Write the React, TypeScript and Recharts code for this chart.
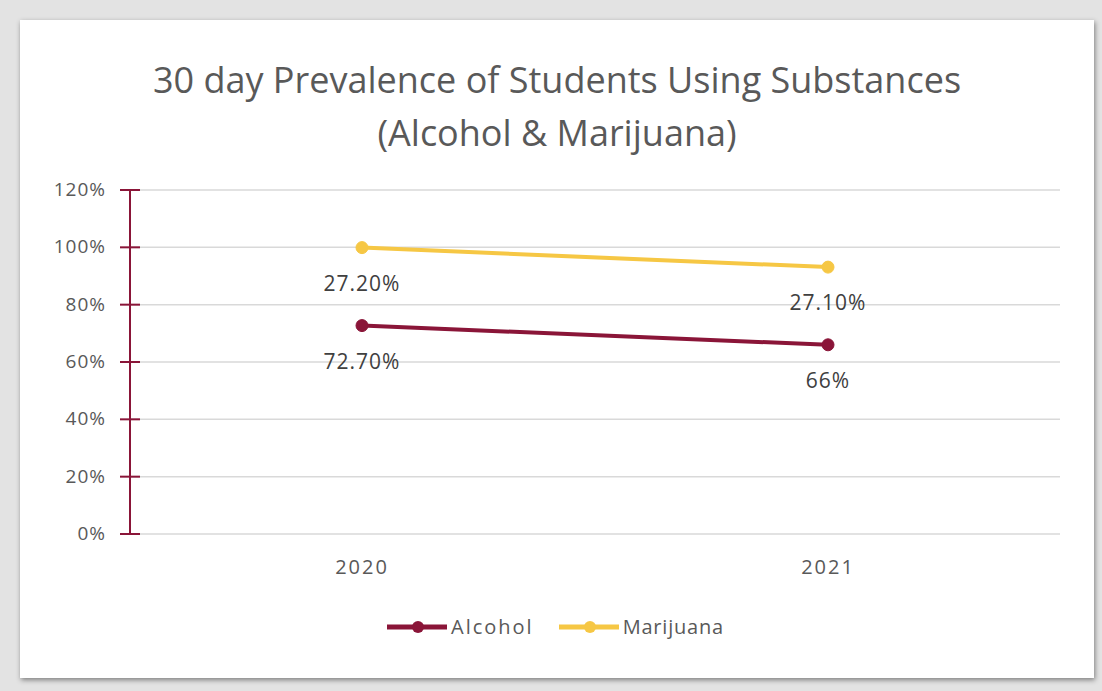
import { LineChart, Line, XAxis, YAxis, CartesianGrid, LabelList } from "recharts";

const years = ["2020", "2021"];
const alcohol = [0.727, 0.66];
const marijuana = [0.272, 0.271];
const yTicks = [0, 0.2, 0.4, 0.6, 0.8, 1, 1.2];
const labelsAlcohol = ["72.70%", "66%"];
const labelsMarijuana = ["27.20%", "27.10%"];

const MAROON = "#8A1538";
const GOLD = "#F6C744";
const TEXT = "#595959";
const FONT = "'Liberation Sans Narrow', 'Open Sans', sans-serif";

// Excel stacked line: marijuana sits on top of alcohol
const data = years.map((y, i) => ({
  year: y,
  alcohol: alcohol[i],
  marijuanaTop: alcohol[i] + marijuana[i],
  alcLabel: labelsAlcohol[i],
  marLabel: labelsMarijuana[i],
}));

function YTick({ x, y, payload }: any) {
  return (
    <g>
      <line x1={x - 10} x2={x + 10} y1={y} y2={y} stroke={MAROON} strokeWidth={2} />
      <text x={x - 24} y={y} dy={6} textAnchor="end" fontSize={19} letterSpacing={1} fill={TEXT} fontFamily={FONT}>
        {Math.round(payload.value * 100) + "%"}
      </text>
    </g>
  );
}

function XTick({ x, y, payload }: any) {
  return (
    <text x={x} y={y} dy={14} textAnchor="middle" fontSize={20} letterSpacing={2} fill={TEXT} fontFamily={FONT}>
      {payload.value}
    </text>
  );
}

function PointLabel({ x, y, value }: any) {
  return (
    <text x={x} y={y + 36} dy={7} textAnchor="middle" fontSize={21} letterSpacing={1} fill="#404040" fontFamily={FONT}>
      {value}
    </text>
  );
}

function LegendItem({ color, label }: { color: string; label: string }) {
  return (
    <div style={{ display: "flex", alignItems: "center", marginRight: 24 }}>
      <svg width={62} height={14}>
        <line x1={1} x2={61} y1={7} y2={7} stroke={color} strokeWidth={5} />
        <circle cx={32} cy={7} r={6} fill={color} />
      </svg>
      <span style={{ fontFamily: FONT, fontSize: 20, letterSpacing: label === "Alcohol" ? 2 : 0.8, color: TEXT, marginLeft: 3 }}>
        {label}
      </span>
    </div>
  );
}

export default function App() {
  return (
    <div style={{ position: "absolute", left: 0, top: 0, width: 1102, height: 691, background: "#e3e3e3", overflow: "hidden" }}>
      <div
        style={{
          position: "absolute",
          left: 20,
          top: 20,
          width: 1074,
          height: 658,
          background: "#fff",
          boxShadow: "1px 2px 5px rgba(0,0,0,0.45)",
        }}
      />
      <div
        style={{
          position: "absolute",
          left: 0,
          top: 53,
          width: 1114,
          textAlign: "center",
          fontFamily: FONT,
          fontSize: 36,
          lineHeight: "53px",
          color: TEXT,
        }}
      >
        30 day Prevalence of Students Using Substances
        <br />
        (Alcohol &amp; Marijuana)
      </div>
      <div style={{ position: "absolute", left: 0, top: 0 }}>
        <LineChart width={1102} height={691} data={data} margin={{ top: 190, right: 42, left: 70, bottom: 127 }}>
          <CartesianGrid horizontal vertical={false} stroke="#d9d9d9" strokeWidth={1.5} />
          <XAxis
            dataKey="year"
            axisLine={false}
            tickLine={false}
            tickMargin={20}
            padding={{ left: 232, right: 232 }}
            tick={<XTick />}
          />
          <YAxis
            domain={[0, 1.2]}
            ticks={yTicks}
            width={60}
            tickSize={0}
            tickMargin={0}
            tickLine={false}
            axisLine={{ stroke: MAROON, strokeWidth: 2 }}
            tick={<YTick />}
            interval={0}
          />
          <Line
            dataKey="alcohol"
            stroke={MAROON}
            strokeWidth={4}
            dot={{ r: 6, fill: MAROON, stroke: MAROON, strokeWidth: 1 }}
            isAnimationActive={false}
          >
            <LabelList dataKey="alcLabel" content={<PointLabel />} />
          </Line>
          <Line
            dataKey="marijuanaTop"
            stroke={GOLD}
            strokeWidth={4}
            dot={{ r: 6, fill: GOLD, stroke: GOLD, strokeWidth: 1 }}
            isAnimationActive={false}
          >
            <LabelList dataKey="marLabel" content={<PointLabel />} />
          </Line>
        </LineChart>
      </div>
      <div style={{ position: "absolute", left: 386, top: 613, display: "flex" }}>
        <LegendItem color={MAROON} label="Alcohol" />
        <LegendItem color={GOLD} label="Marijuana" />
      </div>
    </div>
  );
}
